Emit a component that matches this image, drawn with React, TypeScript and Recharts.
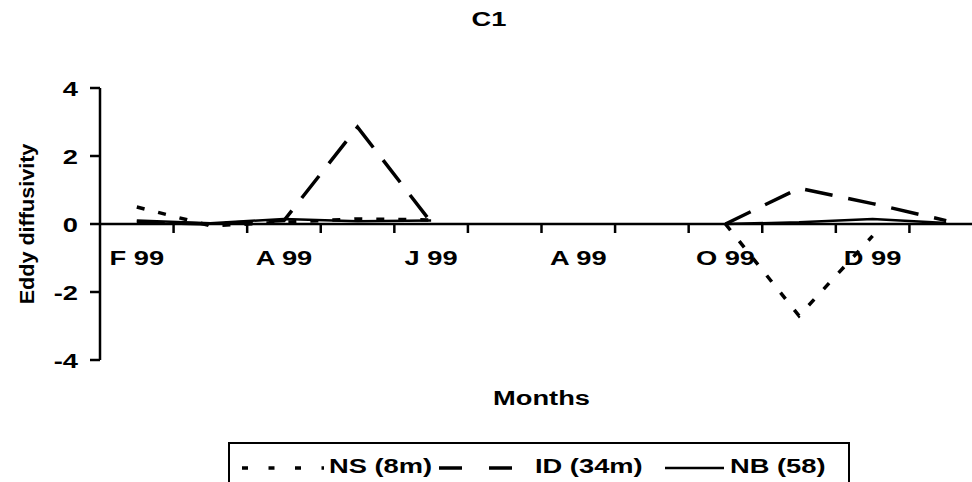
import React from "react";
import {
  LineChart,
  Line,
  XAxis,
  YAxis,
  Legend,
  ReferenceLine,
  Label,
} from "recharts";

// months on the category axis (labels shown on every other one)
const months = ["F 99", "M 99", "A 99", "M 99", "J 99", "J 99", "A 99", "S 99", "O 99", "N 99", "D 99", "J 00"];

// eddy diffusivity per station, null = no sampling that month
const nsValues = [0.5, -0.05, 0.05, 0.15, 0.12, null, null, null, 0.0, -2.7, -0.35, null];
const idValues = [0.05, 0.0, 0.1, 2.85, 0.05, null, null, null, 0.0, 1.05, 0.6, 0.1];
const nbValues = [0.1, 0.02, 0.15, 0.08, 0.1, null, null, null, 0.0, 0.05, 0.15, 0.03];

const yTicks = [-4, -2, 0, 2, 4];

const chartData = months.map((m, i) => ({
  month: m,
  ns: nsValues[i],
  id: idValues[i],
  nb: nbValues[i],
}));

const series = [
  { key: "ns", name: "NS (8m)", dash: "8 14", width: 3.5, sample: "6 20.5", sx: 12, ex: 94, tx: 99 },
  { key: "id", name: "ID (34m)", dash: "28 16", width: 3.5, sample: "23 27", sx: 209, ex: 282, tx: 305 },
  { key: "nb", name: "NB (58)", dash: undefined, width: 2.5, sample: undefined, sx: 435, ex: 494, tx: 500 },
];

// layout
const W = 1000;
const H = 482;
const MARGIN = { top: 88, right: 17, bottom: 92, left: 0 };
const Y_AXIS_W = 100;
const X_AXIS_H = 30;
const PLOT_W = W - MARGIN.left - MARGIN.right - Y_AXIS_W;
const PLOT_H = H - MARGIN.top - MARGIN.bottom - X_AXIS_H;
const BAND = PLOT_W / months.length;
const Y_MIN = -4;
const Y_MAX = 4;
const ZERO_Y = MARGIN.top + (PLOT_H * Y_MAX) / (Y_MAX - Y_MIN);

const FONT = '"Liberation Sans", Arial, Helvetica, sans-serif';

function StretchText({ x, y, anchor = "middle", rotate = 0, size = 21, sx = 1.3, dy, children }: any) {
  return (
    <text
      transform={`translate(${x},${y}) rotate(${rotate}) scale(${sx},1)`}
      textAnchor={anchor}
      dy={dy}
      fontFamily={FONT}
      fontWeight="bold"
      fontSize={size}
      fill="#000"
    >
      {children}
    </text>
  );
}

// category tick: boundary mark hanging off the zero line, label under it every other month
function MonthTick(props: any) {
  const { x, index, payload } = props;
  const cx = Number(x);
  const bx = cx + BAND / 2;
  return (
    <g>
      <path d={`M${bx},${ZERO_Y}L${bx},${ZERO_Y + 9}`} stroke="#000" strokeWidth={2.5} fill="none" />
      {index % 2 === 0 && (
        <StretchText x={cx} y={ZERO_Y + 41} anchor="middle">
          {payload.value}
        </StretchText>
      )}
    </g>
  );
}

function ValueTick({ x, y, payload }: any) {
  return (
    <StretchText x={x} y={y} anchor="end" dy="0.36em">
      {payload.value}
    </StretchText>
  );
}

function LegendBox() {
  return (
    <div style={{ width: 622, height: 60, border: "2.5px solid #000", boxSizing: "border-box", background: "#fff" }}>
      <svg width={618} height={56} style={{ display: "block" }}>
        {series.map((s) => (
          <g key={s.key}>
            <line x1={s.sx} x2={s.ex} y1={24} y2={24} stroke="#000" strokeWidth={s.width} strokeDasharray={s.sample} />
            <StretchText x={s.tx} y={29} anchor="start">
              {s.name}
            </StretchText>
          </g>
        ))}
      </svg>
    </div>
  );
}

export default function App() {
  return (
    <div style={{ position: "absolute", left: 0, top: 0, width: 972, height: 482, overflow: "hidden", background: "#fff" }}>
      <svg width={972} height={50} style={{ position: "absolute", left: 0, top: 0 }}>
        <StretchText x={489} y={26} anchor="middle">C1</StretchText>
      </svg>
      <LineChart width={W} height={H} data={chartData} margin={MARGIN}>
        <XAxis
          dataKey="month"
          height={X_AXIS_H}
          interval={0}
          padding={{ left: BAND / 2, right: BAND / 2 }}
          axisLine={false}
          tickLine={false}
          tickSize={0}
          tickMargin={0}
          tick={<MonthTick />}
        >
          <Label
            content={({ viewBox }: any) => (
              <StretchText x={viewBox.x + viewBox.width / 2} y={viewBox.y + viewBox.height + 15} anchor="middle">
                Months
              </StretchText>
            )}
          />
        </XAxis>
        <YAxis
          width={Y_AXIS_W}
          domain={[Y_MIN, Y_MAX]}
          ticks={yTicks}
          interval={0}
          axisLine={{ stroke: "#000", strokeWidth: 2.5 }}
          tickLine={{ stroke: "#000", strokeWidth: 2.5 }}
          tickSize={10}
          tickMargin={12}
          tick={<ValueTick />}
        >
          <Label
            content={({ viewBox }: any) => (
              <StretchText x={viewBox.x + 34} y={viewBox.y + viewBox.height / 2} rotate={-90} size={20} sx={1.08} anchor="middle">
                Eddy diffusivity
              </StretchText>
            )}
          />
        </YAxis>
        <ReferenceLine y={0} stroke="#000" strokeWidth={2.5} />
        <Legend
          layout="vertical"
          align="center"
          verticalAlign="middle"
          wrapperStyle={{ left: 228, top: 442, width: 622 }}
          content={<LegendBox />}
        />
        {series.map((s) => (
          <Line
            key={s.key}
            type="linear"
            dataKey={s.key}
            name={s.name}
            stroke="#000"
            strokeWidth={s.width}
            strokeDasharray={s.dash}
            dot={false}
            activeDot={false}
            isAnimationActive={false}
          />
        ))}
      </LineChart>
    </div>
  );
}
